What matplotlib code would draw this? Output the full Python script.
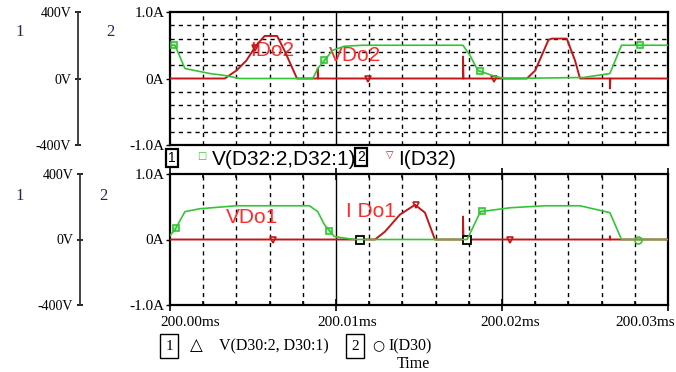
import matplotlib
matplotlib.use("Agg")
import matplotlib.pyplot as plt
import numpy as np

plt.rcParams["font.family"] = ["Liberation Serif", "DejaVu Sans"]

# time in microseconds after 200.00 ms
# --- upper plot: V(D32:2,D32:1) [V] and I(D32) [A]
t_v32 = [0, 0.3, 0.9, 2.4, 3.3, 4.2, 8.6, 8.9, 9.3, 9.8, 10.5, 11.6, 17.65, 18.07, 18.55, 19.6, 20.2, 24.9, 26.5, 27.2, 30]
v_v32 = [200, 200, 60, 30, 18, 0, 0, 60, 109, 170, 194, 200, 200, 139, 48, 12, 0, 6, 30, 200, 200]
t_i32 = [0, 3.3, 4.0, 4.6, 5.2, 5.7, 6.45, 6.9, 7.65, 8.9, 8.9, 8.93, 17.65, 17.65, 17.68,
         21.5, 22.0, 22.8, 23.0, 23.9, 24.4, 24.7, 26.5, 26.5, 26.53, 30]
i_i32 = [0, 0, 0.12, 0.27, 0.5, 0.64, 0.64, 0.42, 0, 0, 0.15, 0, 0, 0.33, 0,
         0, 0.12, 0.58, 0.6, 0.6, 0.27, 0, 0, -0.15, 0, 0]

# --- lower plot: V(D30:2, D30:1) [V] and I(D30) [A]
t_v30 = [0, 0.3, 0.9, 1.8, 4.0, 8.4, 8.9, 9.3, 9.9, 11.1, 17.9, 18.7, 20.5, 22.6, 24.7, 26.5, 27.2, 30]
v_v30 = [24, 60, 170, 188, 206, 206, 170, 91, 18, 0, 0, 170, 194, 206, 206, 164, 0, 0]
t_i30 = [0, 12.35, 12.95, 13.85, 14.76, 15.36, 15.96, 17.65, 17.65, 17.68, 26.5, 26.5, 26.53, 30]
i_i30 = [0, 0, 0.12, 0.38, 0.53, 0.41, 0, 0, 0.35, 0, 0, 0.05, 0, 0]

# marker times
mk_v32 = [0.25, 9.3, 18.7, 28.3]
mk_i32 = [5.1, 11.9, 19.5]
mk_v30 = [0.35, 9.6, 18.8]
mk_i30 = [6.2, 14.8, 20.5]
mk_sq30 = [11.45, 17.9]

x_ticks = [0, 10, 20, 30]
x_labels = ["200.00ms", "200.01ms", "200.02ms", "200.03ms"]
x_shift = [20, 11, 8, -23]   # label offsets in pixels, as in the original

GREEN = "#35c435"
RED = "#c01818"
LABRED = "#ff2a2a"
W, H = 676, 372

fig = plt.figure(figsize=(W / 100, H / 100), dpi=100)
sans = "Liberation Sans"


def box(x0, y0, x1, y1):
    return [x0 / W, 1 - y1 / H, (x1 - x0) / W, (y1 - y0) / H]


def setup(ax, hgrid, vx):
    ax.set_xlim(0, 30)
    ax.set_ylim(-1, 1)
    for xv in np.arange(2, 30, 2):
        if xv in (10, 20):
            ax.axvline(xv, color="black", lw=1.0, zorder=1)
        else:
            ax.axvline(xv, color="black", lw=1.0, ls=(0, (3, 3)), zorder=1)
    if hgrid:
        for yv in np.arange(-0.8, 0.81, 0.2):
            if abs(yv) > 1e-6:
                ax.axhline(yv, color="black", lw=1.0, ls=(0, (3, 3)), zorder=1)
    ax.set_yticks([-1, 0, 1])
    ax.set_yticklabels(["-1.0A", "0A", "1.0A"], fontsize=11)
    ax.tick_params(axis="y", length=3, width=1, pad=1)
    ax.set_xticks(x_ticks)
    ax.set_xticklabels([])
    ax.set_xticks(np.arange(0, 31, 2), minor=True)
    for s in ax.spines.values():
        s.set_linewidth(1.6)
    # voltage axis drawn further left
    av = ax.twinx()
    av.set_ylim(-400, 400)
    av.yaxis.set_ticks_position("left")
    av.yaxis.set_label_position("left")
    av.set_yticks([-400, 0, 400])
    av.set_yticklabels(["-400V", "0V", "400V"], fontsize=11)
    av.spines["left"].set_position(("axes", -(170 - vx) / 498))
    av.spines["left"].set_visible(True)
    av.spines["left"].set_linewidth(1.3)
    av.spines["left"].set_color("#333333")
    for k in ("right", "top", "bottom"):
        av.spines[k].set_visible(False)
    av.tick_params(axis="y", length=4, width=1.2, pad=3, direction="inout")
    return av


ax1 = fig.add_axes(box(170, 12, 668, 145))
av1 = setup(ax1, True, 78)
ax1.tick_params(axis="x", which="both", direction="in", length=3)

ax1.plot(t_i32, i_i32, color=RED, lw=1.4, zorder=4)
av1.plot(t_v32, v_v32, color=GREEN, lw=1.2, zorder=3)
av1.plot(mk_v32, np.interp(mk_v32, t_v32, v_v32), ls="none", marker="s", ms=5,
         mfc="#b8f0b8", mec=GREEN, mew=1.2)
ax1.plot(mk_i32, np.interp(mk_i32, t_i32, i_i32), ls="none", marker="v", ms=5,
         mfc="none", mec=RED, mew=1.2, zorder=5)
ax1.text(4.8, 0.42, "IDo2", color=LABRED, fontfamily=sans, fontsize=15, va="center")
ax1.text(9.6, 0.34, "VDo2", color=LABRED, fontfamily=sans, fontsize=15, va="center")

ax2 = fig.add_axes(box(170, 174, 668, 305))
av2 = setup(ax2, False, 80)
ax2.tick_params(axis="x", which="major", direction="inout", length=8, width=1.2)
ax2.tick_params(axis="x", which="minor", direction="in", length=3, width=1.2)
ax2.tick_params(axis="x", which="both", top=True)
for xt, lab, dx in zip(x_ticks, x_labels, x_shift):
    ax2.annotate(lab, xy=(xt, 0), xycoords=("data", "axes fraction"),
                 xytext=(dx, -17), textcoords="offset pixels",
                 ha="center", va="center", fontsize=11, annotation_clip=False)

ax2.plot(t_i30, i_i30, color=RED, lw=1.4, zorder=3)
av2.plot(t_v30, v_v30, color=GREEN, lw=1.2, zorder=4)
av2.plot(mk_v30, np.interp(mk_v30, t_v30, v_v30), ls="none", marker="s", ms=5,
         mfc="#b8f0b8", mec=GREEN, mew=1.2)
ax2.plot(mk_i30, np.interp(mk_i30, t_i30, i_i30), ls="none", marker="v", ms=5,
         mfc="none", mec=RED, mew=1.2, zorder=5)
ax2.plot(mk_sq30, [0, 0], ls="none", marker="s", ms=6, mfc="white", mec="black", mew=1.3, zorder=6)
ax2.plot([28.2], [0], ls="none", marker="o", ms=5, mfc="none", mec=GREEN, mew=1.2, zorder=6)
ax2.text(3.35, 0.33, "VDo1", color=LABRED, fontfamily=sans, fontsize=15, va="center")
ax2.text(10.6, 0.42, "I Do1", color=LABRED, fontfamily=sans, fontsize=15, va="center")


def ftext(x, y, s, **kw):
    fig.text(x / W, 1 - y / H, s, **kw)


# plot numbers at the left
for yy in (32, 196):
    ftext(20, yy, "1", fontsize=12, color="#1a2a50", ha="center", va="center")
ftext(110, 32, "2", fontsize=12, color="#1a2a50", ha="center", va="center")
ftext(103, 196, "2", fontsize=12, color="#1a2a50", ha="center", va="center")

# legend of upper plot
bb = dict(boxstyle="square,pad=0.15", fc="white", ec="black", lw=1.6)
ftext(172, 158, "1", fontfamily=sans, fontsize=10, ha="center", va="center", bbox=bb, zorder=5)
ftext(202, 156, "\u25a1", fontfamily="DejaVu Sans", fontsize=7, color=GREEN, ha="center", va="center")
ftext(212, 159, "V(D32:2,D32:1)", fontfamily=sans, fontsize=15, ha="left", va="center", zorder=4)
ftext(361, 157, "2", fontfamily=sans, fontsize=10, ha="center", va="center", bbox=bb, zorder=5)
ftext(390, 155, "\u25bd", fontfamily="DejaVu Sans", fontsize=7, color=RED, ha="center", va="center")
ftext(398, 159, "I(D32)", fontfamily=sans, fontsize=15, ha="left", va="center")

# legend of lower plot
bb2 = dict(boxstyle="square,pad=0.35", fc="white", ec="black", lw=1.0)
ftext(169, 346, "1", fontsize=11, ha="center", va="center", bbox=bb2)
ftext(196, 345, "\u25b3", fontfamily="DejaVu Sans", fontsize=12, ha="center", va="center")
ftext(219, 346, "V(D30:2, D30:1)", fontsize=11.5, ha="left", va="center")
ftext(355, 346, "2", fontsize=11, ha="center", va="center", bbox=bb2)
ftext(378, 345, "\u25cb", fontfamily="DejaVu Sans", fontsize=10, ha="center", va="center")
ftext(388, 346, "I(D30)", fontsize=11.5, ha="left", va="center")
ftext(413, 364, "Time", fontsize=11.5, ha="center", va="center")

fig.savefig("out.png", dpi=100)
